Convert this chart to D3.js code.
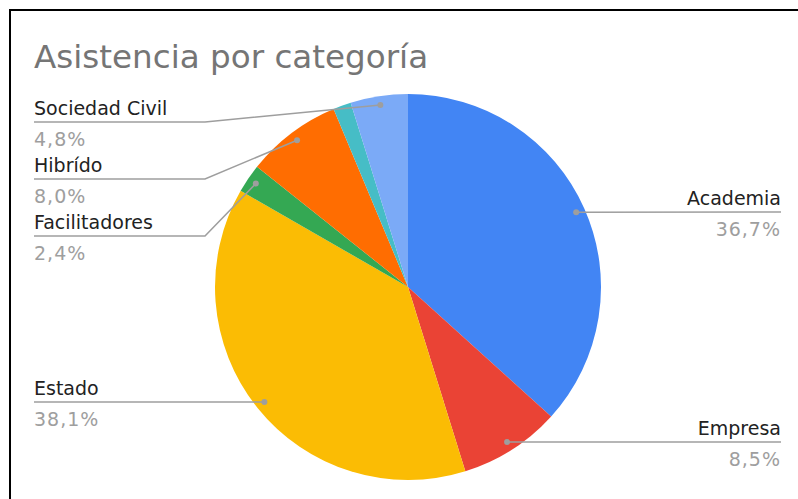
<!DOCTYPE html>
<html><head><meta charset="utf-8">
<script src="https://cdn.jsdelivr.net/npm/d3@7"></script>
<style>body{margin:0;background:#fff}svg{display:block}</style>
</head><body>
<svg id="c" width="798" height="499"></svg>
<script>
const categories = ["Academia","Empresa","Estado","Facilitadores","Hibrído","Otros","Sociedad Civil"];
const labels = ["Academia","Empresa","Estado","Facilitadores","Hibrído",null,"Sociedad Civil"];
const values = [36.7, 8.5, 38.1, 2.4, 8.0, 1.5, 4.8];
const pctLabels = ["36,7%","8,5%","38,1%","2,4%","8,0%",null,"4,8%"];
const colors = ["#4285F4","#EA4335","#FBBC04","#34A853","#FF6D01","#46BDC6","#7BAAF7"];
// label layout: side and y of the underline
const labelSide = ["right","right","left","left","left",null,"left"];
const labelLineY = [212, 442, 402, 236, 179, null, 122];

const svg = d3.select("#c");
const FONT = "'DejaVu Sans', Verdana, sans-serif";
// border
svg.append("line").attr("x1",10).attr("x2",798).attr("y1",10).attr("y2",10).attr("stroke","#000").attr("stroke-width",2);
svg.append("line").attr("x1",10).attr("x2",10).attr("y1",9).attr("y2",499).attr("stroke","#000").attr("stroke-width",2);

svg.append("text").attr("x",34).attr("y",68).text("Asistencia por categoría")
  .attr("font-family",FONT).attr("font-size",32.6).attr("fill","#757575");

const cx = 408, cy = 287, r = 193;
const data = categories.map((c,i)=>({c, v:values[i], i}));
const pie = d3.pie().value(d=>d.v).sort(null);
const arcs = pie(data);
const arc = d3.arc().innerRadius(0).outerRadius(r);
const g = svg.append("g").attr("transform",`translate(${cx},${cy})`);
g.selectAll("path").data(arcs).enter().append("path")
  .attr("d",arc).attr("fill",d=>colors[d.data.i]);

const dotArc = d3.arc().innerRadius(184).outerRadius(184);
const lineCol = "#9e9e9e";
arcs.forEach(a=>{
  const i = a.data.i;
  if(!labels[i]) return;
  const [dx,dy] = dotArc.centroid(a);
  const px = cx+dx, py = cy+dy;
  const ly = labelLineY[i];
  let pts;
  if(labelSide[i]==="right"){
    pts=[[px,py],[781,ly]];
  } else {
    if(Math.abs(ly-py)<1) pts=[[px,py],[34,ly]];
    else pts=[[px,py],[205,ly],[34,ly]];
  }
  svg.append("path").attr("d",d3.line()(pts)).attr("fill","none").attr("stroke",lineCol).attr("stroke-width",1.5);
  svg.append("circle").attr("cx",px).attr("cy",py).attr("r",3).attr("fill",lineCol);
  const right = labelSide[i]==="right";
  const tx = right?781:34;
  const anchor = right?"end":"start";
  svg.append("text").attr("x",tx).attr("y",ly-7).attr("text-anchor",anchor)
    .attr("font-family",FONT).attr("font-size",19).attr("fill","#222").text(labels[i]);
  svg.append("text").attr("x",tx).attr("y",ly+24).attr("text-anchor",anchor)
    .attr("font-family",FONT).attr("font-size",19).attr("letter-spacing",1).attr("fill","#9e9e9e").text(pctLabels[i]);
});
</script>
</body></html>
